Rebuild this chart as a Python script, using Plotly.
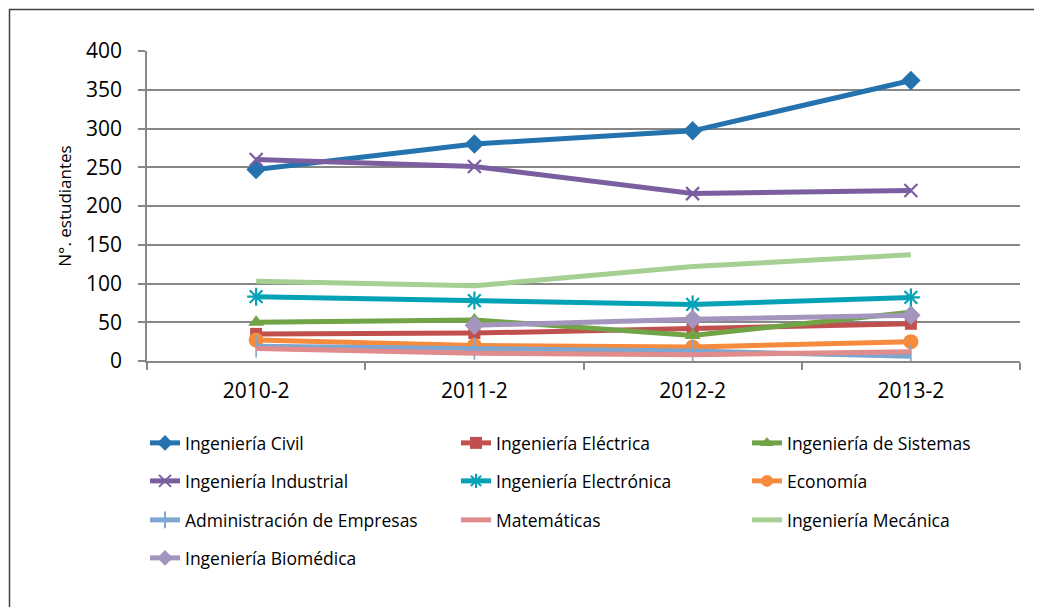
import plotly.graph_objects as go

categories = ["2010-2", "2011-2", "2012-2", "2013-2"]

series_names = [
    "Ingeniería Civil", "Ingeniería Eléctrica", "Ingeniería de Sistemas",
    "Ingeniería Industrial", "Ingeniería Electrónica", "Economía",
    "Administración de Empresas", "Matemáticas", "Ingeniería Mecánica",
    "Ingeniería Biomédica",
]
civil = [247, 280, 297, 362]
electrica = [35, 36, 42, 48]
sistemas = [50, 53, 33, 63]
industrial = [260, 251, 216, 220]
electronica = [83, 78, 73, 82]
economia = [27, 20, 18, 25]
administracion = [19, 16, 13, 6]
matematicas = [16, 10, 8, 12]
mecanica = [103, 97, 122, 137]
biomedica = [None, 46, 54, 59]

values = [civil, electrica, sistemas, industrial, electronica, economia,
          administracion, matematicas, mecanica, biomedica]

colors = ["#2473ae", "#c0504d", "#71a447", "#7b5ea0", "#05a2b5", "#f68b3e",
          "#7da7d0", "#e08c8c", "#a5cf93", "#a395be"]
symbols = ["diamond", "square", "triangle-up", "x-thin", "asterisk", "circle",
           "line-ns", None, None, "diamond"]
sizes = [15, 12, 14, 13, 15, 15, 16, 0, 0, 15]

# The page body has an 8px margin; the figure is sized to fit inside it.
OFF = 8
W, H = 1042 - 2 * OFF, 615 - 2 * OFF
L, R, T, B = 147 - OFF, 1020 - OFF, 51 - OFF, 361 - OFF
pw, ph = R - L, B - T

def px(x):
    return (x - OFF - L) / pw

def py(y):
    return (B - (y - OFF)) / ph

fig = go.Figure()
legend_ids = ["legend"] + ["legend%d" % k for k in range(2, 11)]
for i, (name, vals) in enumerate(zip(series_names, values)):
    sym = symbols[i]
    mode = "lines+markers" if sym else "lines"
    marker = dict(color=colors[i], size=sizes[i], symbol=sym or "circle")
    if sym in ("x-thin", "asterisk", "line-ns"):
        marker["line"] = dict(color=colors[i], width=2.2 if sym != "line-ns" else 1.6)
    fig.add_trace(go.Scatter(
        x=categories, y=vals, name=name, mode=mode,
        line=dict(color=colors[i], width=5),
        marker=marker, legend=legend_ids[i], connectgaps=False,
    ))

tick_font = dict(family="Open Sans, Noto Sans, sans-serif", size=21, color="#000000")
title_font = dict(family="Open Sans, Noto Sans, sans-serif", size=17, color="#000000")
leg_font = dict(family="Open Sans, Noto Sans, sans-serif", size=17.5, color="#000000")

# screen positions (legend box left, row centre)
col_x = [145, 456, 747]
row_y = [443, 481, 520, 558]
legends = {}
for i, lid in enumerate(legend_ids):
    r, c = divmod(i, 3)
    legends[lid] = dict(
        orientation="h", x=px(col_x[c]), y=py(row_y[r]),
        xanchor="left", yanchor="middle",
        font=leg_font, bgcolor="rgba(0,0,0,0)", itemsizing="constant",
    )

fig.update_layout(
    width=W, height=H,
    margin=dict(l=L, r=W - R, t=T, b=H - B, pad=0),
    paper_bgcolor="white", plot_bgcolor="white",
    font=title_font,
    showlegend=True,
    **legends,
    xaxis=dict(
        type="category", range=[-0.5, 3.5], tickson="boundaries",
        ticks="outside", ticklen=7, tickcolor="#878787", tickwidth=1.5,
        showline=True, linecolor="#878787", linewidth=1.5,
        showgrid=False, zeroline=False, tickfont=tick_font,
        ticklabelstandoff=10,
    ),
    yaxis=dict(
        range=[0, 400], dtick=50, ticks="outside", ticklen=7,
        tickcolor="#878787", tickwidth=1.5,
        showline=True, linecolor="#878787", linewidth=1.5,
        showgrid=True, gridcolor="#878787", gridwidth=1.5,
        zeroline=False, tickfont=tick_font, ticklabelstandoff=12,
        title=dict(text="N°. estudiantes", font=title_font, standoff=10),
    ),
    shapes=[
        dict(type="line", xref="paper", yref="paper", x0=px(9), x1=px(1060),
             y0=py(9.5), y1=py(9.5), line=dict(color="#404040", width=1.5)),
        dict(type="line", xref="paper", yref="paper", x0=px(9.5), x1=px(9.5),
             y0=py(9), y1=py(640), line=dict(color="#404040", width=1.5)),
    ],
)

fig.write_html("out.html")
